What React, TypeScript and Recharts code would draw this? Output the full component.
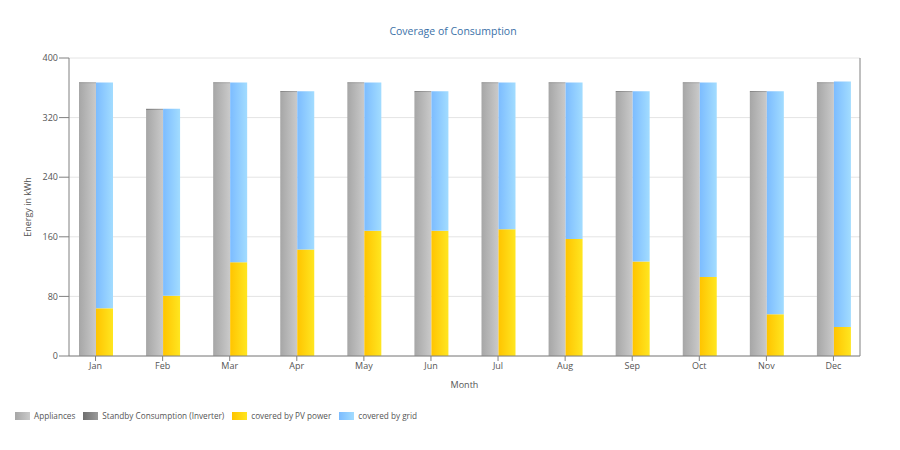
import React from 'react';
import { ComposedChart, Bar, XAxis, YAxis, CartesianGrid, Legend } from 'recharts';

const months = ['Jan', 'Feb', 'Mar', 'Apr', 'May', 'Jun', 'Jul', 'Aug', 'Sep', 'Oct', 'Nov', 'Dec'];
const appliances = [365.8, 330.4, 365.8, 354.0, 365.8, 354.0, 365.8, 365.8, 354.0, 365.8, 354.0, 365.8];
const standby = [1.5, 1.4, 1.5, 1.5, 1.5, 1.5, 1.5, 1.5, 1.5, 1.5, 1.5, 1.5];
const pvPower = [64, 81, 126, 143, 168, 168, 170, 157, 127, 106, 56, 39];
const grid = [303, 251, 241, 212.5, 199, 187.5, 197, 210, 228.5, 261, 299.5, 329.5];
const yTicks = [0, 80, 160, 240, 320, 400];

const data = months.map((m, i) => ({
  month: m,
  appliances: appliances[i],
  standby: standby[i],
  pv: pvPower[i],
  grid: grid[i],
}));

const FONT = '"Open Sans", "Noto Sans", sans-serif';

const legendItems = [
  { label: 'Appliances', from: '#a6a6a6', to: '#cacaca' },
  { label: 'Standby Consumption (Inverter)', from: '#6e6e6e', to: '#9a9a9a' },
  { label: 'covered by PV power', from: '#ffc400', to: '#ffe620' },
  { label: 'covered by grid', from: '#7cbcff', to: '#a2dcff' },
];

const renderLegend = () => (
  <div style={{ display: 'flex', alignItems: 'center', fontFamily: FONT, fontSize: 8.2, color: '#555' }}>
    {legendItems.map((it) => (
      <div key={it.label} style={{ display: 'flex', alignItems: 'center', marginRight: 8 }}>
        <span
          style={{
            display: 'inline-block',
            width: 15,
            height: 8,
            marginRight: 4,
            background: `linear-gradient(to right, ${it.from}, ${it.to})`,
          }}
        />
        <span>{it.label}</span>
      </div>
    ))}
  </div>
);

const YLabel = (props: any) => {
  const vb = props.viewBox || {};
  const x = vb.x + 18;
  const y = vb.y + vb.height / 2;
  return (
    <text
      x={x}
      y={y}
      transform={`rotate(-90, ${x}, ${y})`}
      textAnchor="middle"
      dominantBaseline="central"
      fontFamily={FONT}
      fontSize={9}
      fill="#555"
    >
      Energy in kWh
    </text>
  );
};

export default function App() {
  return (
    <div style={{ position: 'absolute', left: 0, top: 0, width: 900, height: 450, background: '#fff' }}>
      <div
        style={{
          position: 'absolute',
          left: 0,
          top: 24,
          width: 906,
          textAlign: 'center',
          fontFamily: FONT,
          fontSize: 10.5,
          color: '#3b71a8',
        }}
      >
        Coverage of Consumption
      </div>
      <ComposedChart
        width={900}
        height={450}
        data={data}
        margin={{ top: 58, right: 0, bottom: 54, left: 9 }}
        barGap={0}
        barSize={17}
      >
        <defs>
          <linearGradient id="gGray" x1="0" y1="0" x2="1" y2="0">
            <stop offset="0%" stopColor="#a6a6a6" />
            <stop offset="100%" stopColor="#cacaca" />
          </linearGradient>
          <linearGradient id="gDark" x1="0" y1="0" x2="1" y2="0">
            <stop offset="0%" stopColor="#6e6e6e" />
            <stop offset="100%" stopColor="#9a9a9a" />
          </linearGradient>
          <linearGradient id="gYellow" x1="0" y1="0" x2="1" y2="0">
            <stop offset="0%" stopColor="#ffc400" />
            <stop offset="100%" stopColor="#ffe620" />
          </linearGradient>
          <linearGradient id="gBlue" x1="0" y1="0" x2="1" y2="0">
            <stop offset="0%" stopColor="#7cbcff" />
            <stop offset="100%" stopColor="#a2dcff" />
          </linearGradient>
        </defs>
        <CartesianGrid vertical={false} stroke="#e4e4e4" yAxisId="left" />
        <XAxis
          dataKey="month"
          height={40}
          padding={{ left: -7, right: -7 }}
          tickSize={5}
          tickMargin={2}
          stroke="#808080"
          tick={{ fontFamily: FONT, fontSize: 9, fill: '#555' }}
          label={{ value: 'Month', position: 'insideBottom', offset: 8, fontFamily: FONT, fontSize: 9, fill: '#555' }}
        />
        <YAxis
          yAxisId="left"
          width={60}
          domain={[0, 400]}
          ticks={yTicks}
          tickSize={10}
          tickMargin={1}
          stroke="#808080"
          tick={{ fontFamily: FONT, fontSize: 9, fill: '#555' }}
          label={<YLabel />}
        />
        <YAxis
          yAxisId="right"
          orientation="right"
          width={40}
          domain={[0, 400]}
          ticks={yTicks}
          tickSize={8}
          tickMargin={2}
          stroke="#808080"
          tick={{ fontFamily: FONT, fontSize: 9, fill: '#555' }}
        />
        <Legend
          verticalAlign="middle"
          align="center"
          layout="horizontal"
          content={renderLegend}
          wrapperStyle={{ top: 410, left: 15, width: 600 }}
        />
        <Bar yAxisId="left" dataKey="appliances" name="Appliances" stackId="a" fill="url(#gGray)" isAnimationActive={false} />
        <Bar yAxisId="left" dataKey="standby" name="Standby Consumption (Inverter)" stackId="a" fill="url(#gDark)" isAnimationActive={false} />
        <Bar yAxisId="left" dataKey="pv" name="covered by PV power" stackId="b" fill="url(#gYellow)" isAnimationActive={false} />
        <Bar yAxisId="left" dataKey="grid" name="covered by grid" stackId="b" fill="url(#gBlue)" isAnimationActive={false} />
      </ComposedChart>
    </div>
  );
}
